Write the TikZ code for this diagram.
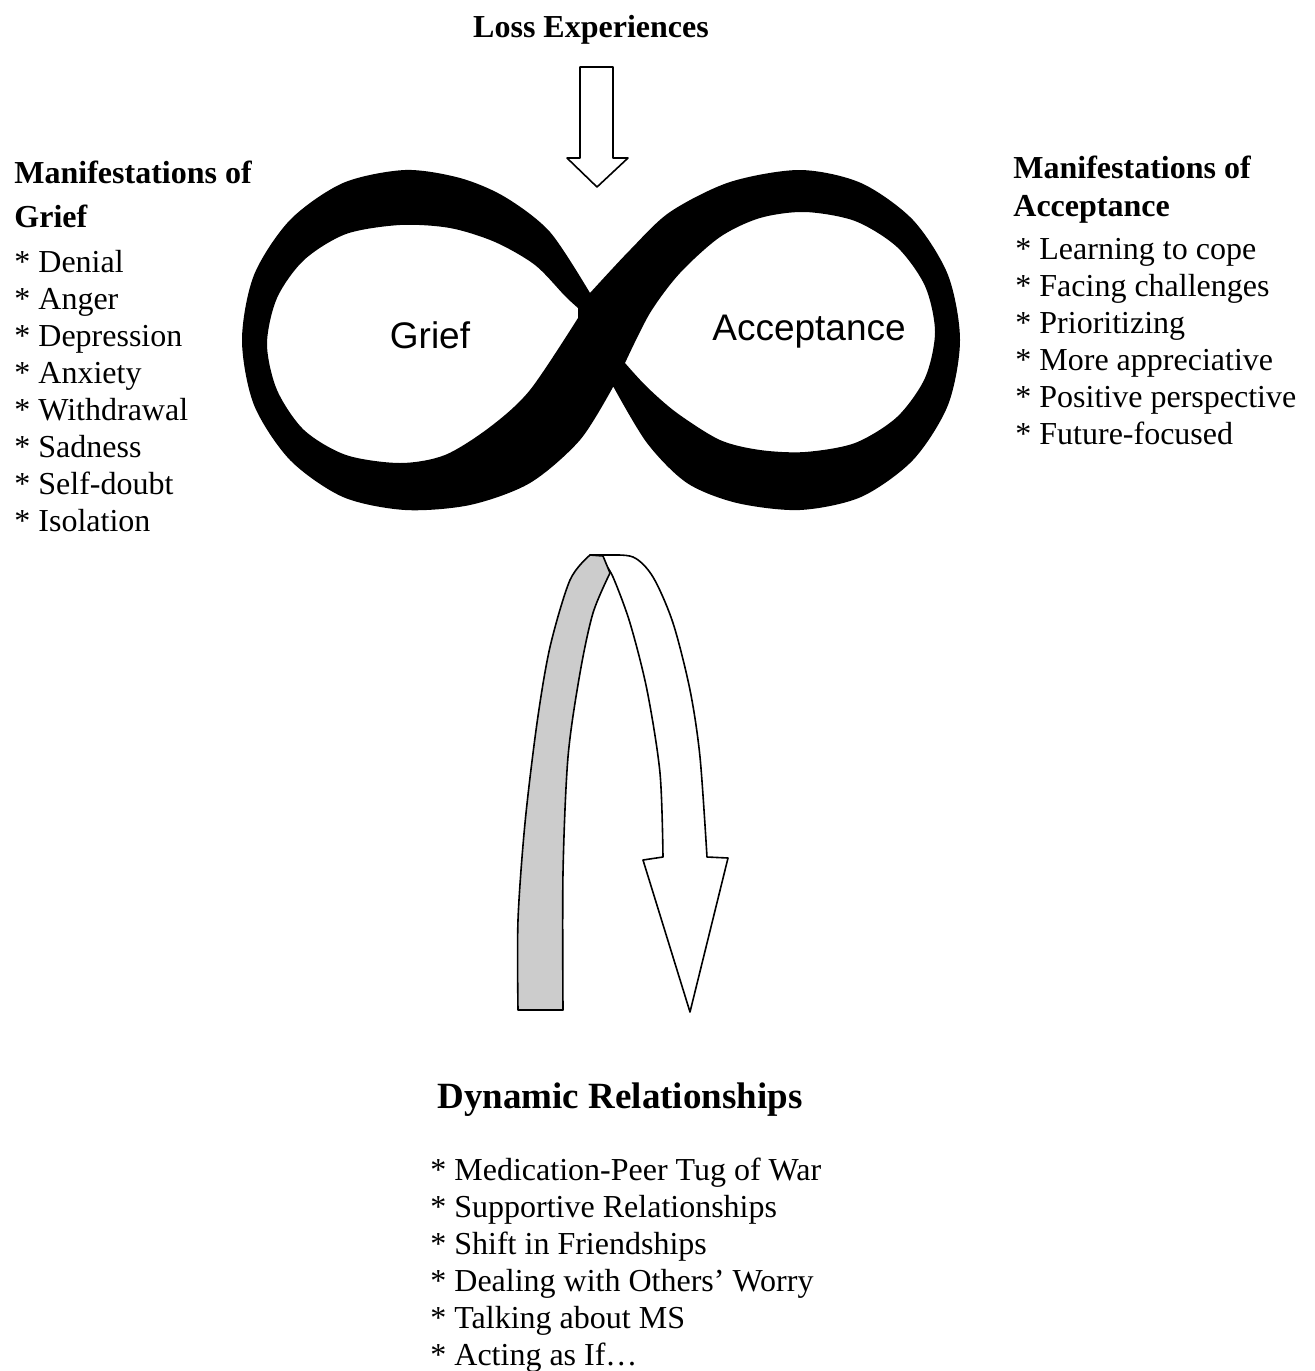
\documentclass[tikz,border=0pt]{standalone}
\usepackage{fontspec}
\setmainfont{Liberation Serif}
\newfontfamily\loopfont{Liberation Sans}
\usetikzlibrary{positioning}

\tikzset{
  heading/.style={font=\bfseries\fontsize{16}{22}\selectfont, align=left, inner sep=0pt},
  itemlist/.style={font=\fontsize{16}{18.45}\selectfont, align=left, inner sep=0pt},
  looplabel/.style={font=\loopfont\fontsize{18.5}{22}\selectfont, inner sep=0pt},
  ribbon/.style={draw, line width=0.8pt, line join=round},
}

\begin{document}
\begin{tikzpicture}[x=0.5pt, y=-0.5pt]
    \useasboundingbox (0,0) rectangle (1314,1371);

    % the infinity band (outline, then the two holes)
    \fill[black, even odd rule]
        plot[smooth] coordinates {(590,293) (630,250) (670,212) (730,182) (800,170) (861,183)
              (913,220) (948,275) (960,340) (948,405) (913,460) (861,497) (800,510)
              (737,503) (687,483) (647,443) (613,386)}
        -- plot[smooth] coordinates {(613,387) (580,440) (530,483) (470,505) (405,510) (343,497)
              (290,460) (254,405) (242,340) (254,275) (290,220) (343,183) (405,170)
              (460,178) (505,197) (550,232) (590,293)} -- cycle
        plot[smooth] coordinates {(578,318) (530,390) (490,427) (445,455) (400,463) (346,455)
              (304,430) (277,390) (267,344) (277,298) (304,260) (346,234) (400,225)
              (450,228) (495,242) (535,265) (565,296) (578,308)} -- cycle
        plot[smooth] coordinates {(625,363) (650,313) (680,273) (720,237) (760,218) (805,212)
              (855,221) (897,247) (925,286) (935,332) (925,378) (897,417) (855,443)
              (805,452) (760,450) (720,440) (677,413) (647,387) (625,363)} -- cycle;

    \node[looplabel] (grief) at (430,335) {Grief};
    \node[looplabel] (accept) at (809,332) {Acceptance};

    % top arrow
    \node[heading, anchor=base] (loss) at (591,37) {Loss Experiences};
    \draw[ribbon, fill=white] (580,67) -- (613,67) -- (613,158) -- (628,158) -- (597,187)
        -- (567,158) -- (580,158) -- cycle;

    % side lists (anchored on the baseline of the last line)
    \node[heading, anchor=base west] (griefhead) at (14,227) {Manifestations of\\Grief};
    \node[itemlist, anchor=base west] (grieflist) at (14,531)
        {* Denial\\* Anger\\* Depression\\* Anxiety\\* Withdrawal\\* Sadness\\* Self-doubt\\* Isolation};
    \node[heading, font=\bfseries\fontsize{16}{19}\selectfont, anchor=base west] (accepthead) at (1013,216)
        {Manifestations of\\Acceptance};
    \node[itemlist, anchor=base west] (acceptlist) at (1015,444)
        {* Learning to cope\\* Facing challenges\\* Prioritizing\\* More appreciative\\* Positive perspective\\* Future-focused};

    % curved ribbon arrow
    \draw[ribbon, fill=white]
        plot[smooth] coordinates {(590,555) (603,555) (633,557) (653,577) (673,623) (690,690) (700,757) (707,857)}
        -- (728,858) -- (690,1012) -- (643,860) -- (663,857)
        -- plot[smooth] coordinates {(663,857) (660,773) (647,690) (630,623) (613,577) (604,563)} -- cycle;
    \draw[ribbon, fill=gray!40]
        plot[smooth] coordinates {(518,1010) (518,920) (525,823) (537,723) (550,647) (570,580) (590,555)}
        -- (603,556)
        -- plot[smooth] coordinates {(610,573) (593,613) (580,673) (568,757) (563,873) (563,1010)} -- cycle;

    % bottom list
    \node[heading, font=\bfseries\fontsize{18.5}{22}\selectfont, anchor=base] (dynhead) at (620,1108)
        {Dynamic Relationships};
    \node[itemlist, anchor=base west] (dynlist) at (430,1365)
        {* Medication-Peer Tug of War\\* Supportive Relationships\\* Shift in Friendships\\* Dealing with Others’ Worry\\* Talking about MS\\* Acting as If…};
\end{tikzpicture}
\end{document}
